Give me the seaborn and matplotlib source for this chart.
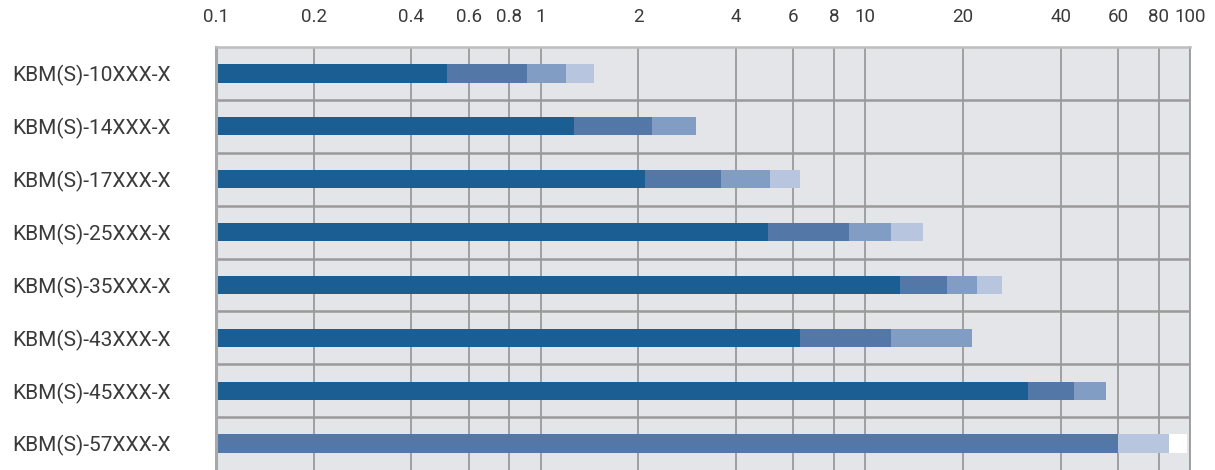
import numpy as np
import pandas as pd
import seaborn as sns
import matplotlib.pyplot as plt

models = ["KBM(S)-10XXX-X", "KBM(S)-14XXX-X", "KBM(S)-17XXX-X", "KBM(S)-25XXX-X",
          "KBM(S)-35XXX-X", "KBM(S)-43XXX-X", "KBM(S)-45XXX-X", "KBM(S)-57XXX-X"]

# right end of each coloured segment (log scale, segments start where the previous one ends)
tier_dark     = [0.515, 1.27, 2.10, 5.0, 12.8, 6.3, 31.6, np.nan]
tier_medium   = [0.91, 2.20, 3.60, 8.9, 17.8, 12.0, 44.0, 60.0]
tier_light    = [1.20, 3.00, 5.10, 12.0, 22.0, 21.3, 55.3, np.nan]
tier_lightest = [1.46, np.nan, 6.30, 15.1, 26.3, np.nan, np.nan, 86.0]
tier_white    = [np.nan, np.nan, np.nan, np.nan, np.nan, np.nan, np.nan, 98.0]

tick_vals = [0.1, 0.2, 0.4, 0.6, 0.8, 1, 2, 4, 6, 8, 10, 20, 40, 60, 80, 100]
tick_labels = ["0.1", "0.2", "0.4", "0.6", "0.8", "1", "2", "4", "6", "8", "10",
               "20", "40", "60", "80", "100"]

tiers = [
    (tier_white, "#ffffff"),
    (tier_lightest, "#b8c5de"),
    (tier_light, "#829dc4"),
    (tier_medium, "#5378a8"),
    (tier_dark, "#1b5e93"),
]

sns.set_style("white")
plt.rcParams["font.family"] = ["Roboto", "DejaVu Sans"]
plt.rcParams["font.stretch"] = "condensed"

fig = plt.figure(figsize=(12.15, 4.70), dpi=100)
ax = fig.add_axes([216 / 1215, 0, 974 / 1215, 423 / 470])
ax.set_facecolor("#e4e5e8")

# draw outermost segment first, inner ones on top
for vals, col in tiers:
    df = pd.DataFrame({"model": models, "value": vals}).dropna()
    sns.barplot(data=df, x="value", y="model", order=models, orient="h",
                color=col, width=0.345, linewidth=0, saturation=1, ax=ax)

ax.set_xscale("log")
ax.set_xlim(0.1, 100)
ax.set_ylim(7.5, -0.5)
ax.set_xticks(tick_vals)
ax.set_xticklabels(tick_labels)
ax.xaxis.set_minor_locator(plt.NullLocator())
ax.xaxis.tick_top()
ax.tick_params(axis="x", length=0, pad=15, labelsize=13.5, labelcolor="#3a3a3a")

ax.set_yticks(range(len(models)))
ax.set_yticklabels(models, ha="left")
ax.set_yticks(np.arange(0.5, len(models) - 0.5, 1), minor=True)
ax.tick_params(axis="y", which="both", length=0, pad=147, labelsize=15,
               labelcolor="#3a3a3a")

ax.set_axisbelow(True)
ax.grid(axis="x", which="major", color="#9a9a9a", linewidth=1.3)
ax.grid(axis="y", which="minor", color="#9a9a9a", linewidth=1.8)
ax.grid(axis="y", which="major", visible=False)

ax.set_xlabel("")
ax.set_ylabel("")
ax.spines["top"].set_color("#bdbdbd")
ax.spines["top"].set_linewidth(1.8)
ax.spines["right"].set_color("#9a9a9a")
ax.spines["right"].set_linewidth(1.3)
ax.spines["left"].set_color("#a8a8a8")
ax.spines["left"].set_linewidth(2.2)
ax.spines["bottom"].set_visible(False)

fig.savefig("out.png", dpi=100)
